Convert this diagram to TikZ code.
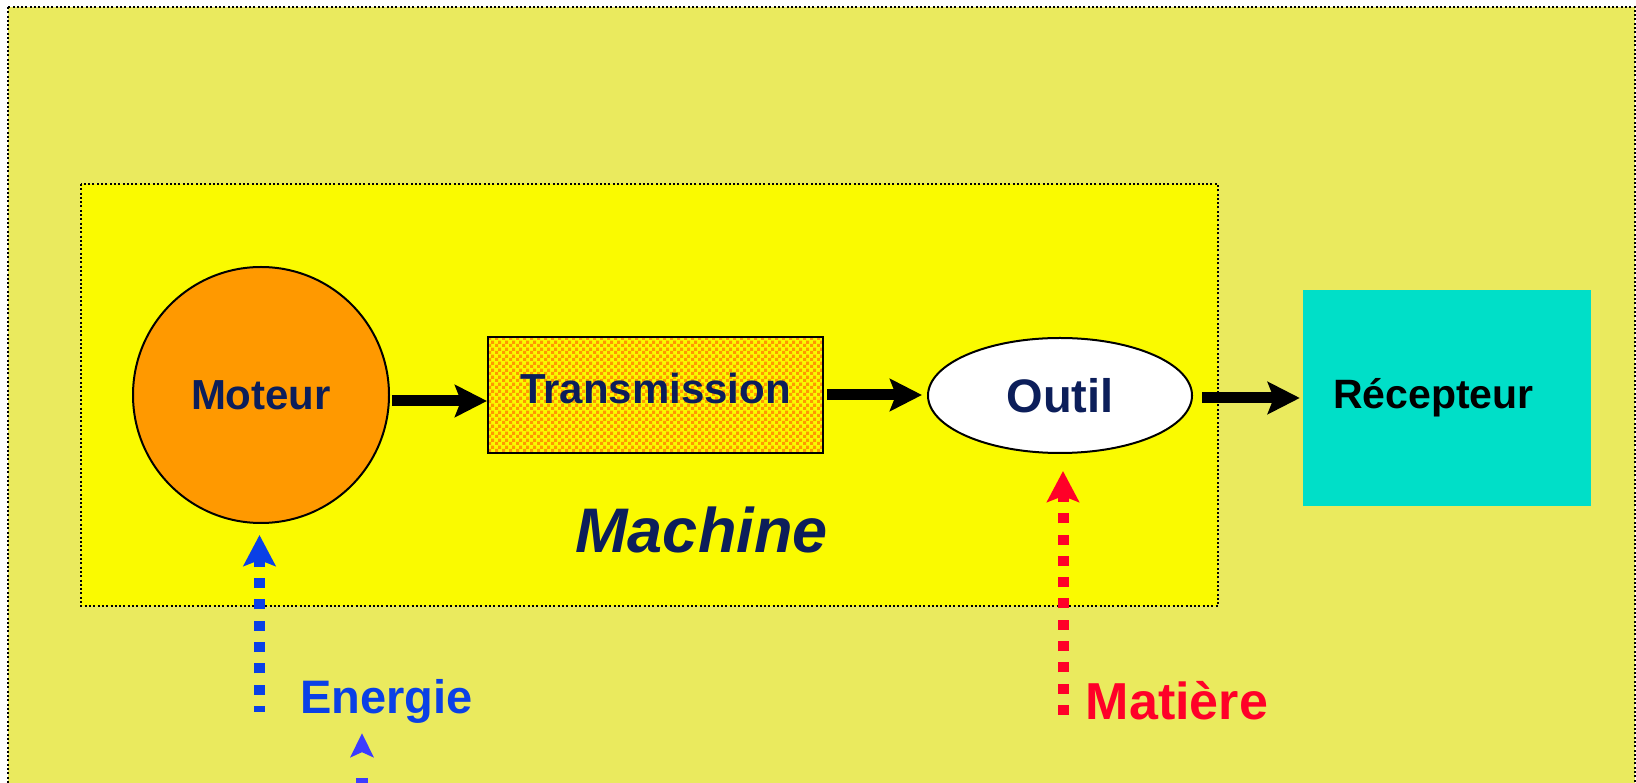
\documentclass[tikz,border=0pt]{standalone}
\usepackage{fontspec}
\setmainfont{Liberation Sans}
\usetikzlibrary{positioning, arrows.meta, shapes.geometric, patterns.meta}

\definecolor{fondclair}{RGB}{234,234,94}
\definecolor{fondmachine}{RGB}{250,250,0}
\definecolor{orangemoteur}{RGB}{255,153,0}
\definecolor{turquoise}{RGB}{0,223,200}
\definecolor{marine}{RGB}{12,30,90}
\definecolor{bleuenergie}{RGB}{10,64,230}
\definecolor{bleuclair}{RGB}{60,60,255}
\definecolor{rougematiere}{RGB}{255,0,40}

\tikzdeclarepattern{
  name=damier, type=uncolored,
  bounding box={(0pt,0pt) and (6.6pt,6.6pt)},
  tile size={(6.6pt,6.6pt)},
  code={
    \fill (0pt,0pt) rectangle (3.3pt,3.3pt);
    \fill (3.3pt,3.3pt) rectangle (6.6pt,6.6pt);
  }
}

\begin{document}
\begin{tikzpicture}[x=1pt, y=1pt,
        cadre/.style={draw=black, line width=2pt, dash pattern=on 2pt off 2.3pt},
        bloc/.style={draw=black, line width=2pt, text=marine, inner sep=0pt,
                     font=\bfseries\fontsize{42}{50}\selectfont},
        fleche/.style={-{Stealth[length=32pt, width=32pt, inset=6pt]}, line width=11pt},
        apport/.style={-{Stealth[length=31pt, width=32pt, inset=6pt]},
                       dash pattern=on 10pt off 11.3pt},
        legende/.style={inner sep=0pt, anchor=base, font=\bfseries\fontsize{47}{56}\selectfont}
    ]
        \useasboundingbox (0,0) rectangle (1636,782);
        \clip (0,0) rectangle (1636,782);

        \draw[cadre, fill=fondclair] (8,775) rectangle (1635,-20);
        \draw[cadre, fill=fondmachine] (81,598) rectangle (1218,176);

        \node[bloc, circle, fill=orangemoteur, minimum size=256pt] (moteur) at (261,387) {Moteur};
        \node[bloc, rectangle, minimum width=335pt, minimum height=116pt,
              text depth=14pt, preaction={fill=fondmachine}, pattern=damier,
              pattern color=orangemoteur] (transmission) at (655.5,387) {Transmission};
        \node[bloc, ellipse, fill=white, minimum width=264pt, minimum height=115pt,
              font=\bfseries\fontsize{47}{56}\selectfont] (outil) at (1060,386.5) {Outil};
        \node[rectangle, fill=turquoise, minimum width=288pt, minimum height=216pt,
              text width=228pt, inner xsep=30pt, align=left,
              font=\bfseries\fontsize{41}{49}\selectfont] (recepteur) at (1447,384) {Récepteur};

        \node[legende, text=marine, font=\bfseries\itshape\fontsize{63}{75}\selectfont] (machine) at (701.5,229) {Machine};
        \node[legende, text=bleuenergie] (energie) at (386.5,68) {Energie};
        \node[legende, text=rougematiere, font=\bfseries\fontsize{52}{62}\selectfont] (matiere) at (1177,63) {Matière};

        \coordinate (entree energie) at (259.5,70);
        \coordinate (source) at (362,-8);
        \coordinate (entree matiere) at (1063,67);

        \draw[fleche, shorten <=2pt] ([yshift=-6pt]moteur.east) -- ([yshift=-6pt]transmission.west);
        \draw[fleche, shorten <=3pt, shorten >=5pt] (transmission.east) -- (transmission.east -| outil.west);
        \draw[fleche, shorten <=9pt, shorten >=3pt] (outil.east |- recepteur.west) -- (recepteur.west);

        \draw[apport, line width=11pt, draw=bleuenergie, dash phase=4pt, shorten >=11pt]
            (entree energie) -- (entree energie |- moteur.south);
        \draw[apport, line width=11.5pt, draw=bleuclair, dash pattern=on 12pt off 30pt,
              -{Stealth[length=24pt, width=23pt, inset=5pt]}, shorten >=9pt]
            (source) -- (source |- energie.south);
        \draw[apport, line width=11pt, draw=rougematiere, shorten >=17pt]
            (entree matiere) -- (entree matiere |- outil.south);
    \end{tikzpicture}
\end{document}
